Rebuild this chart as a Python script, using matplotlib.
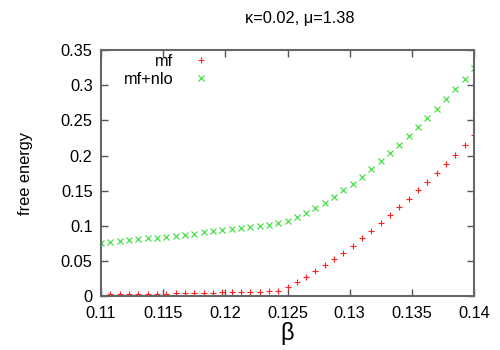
import numpy as np
import matplotlib
matplotlib.use("Agg")
import matplotlib.pyplot as plt

plt.rcParams['font.family'] = ['Liberation Sans', 'DejaVu Sans']

# beta grid: 41 points between 0.11 and 0.14
beta = [0.11 + 0.00075 * i for i in range(41)]

mf = [0.0019, 0.0024, 0.0024, 0.0024, 0.0028, 0.0028, 0.0033, 0.0033,
      0.0038, 0.0038, 0.0043, 0.0043, 0.0047, 0.0052, 0.0052, 0.0057,
      0.0062, 0.0062, 0.0066, 0.0071, 0.0133, 0.0194, 0.0270, 0.0350,
      0.0436, 0.0526, 0.0616, 0.0716, 0.0820, 0.0924, 0.1033, 0.1147,
      0.1261, 0.1380, 0.1503, 0.1626, 0.1750, 0.1883, 0.2012, 0.2148,
      0.2285]

mf_nlo = [0.0758, 0.0773, 0.0787, 0.0797, 0.0806, 0.0820, 0.0830, 0.0844,
          0.0858, 0.0873, 0.0887, 0.0906, 0.0920, 0.0934, 0.0948, 0.0963,
          0.0982, 0.0996, 0.1015, 0.1043, 0.1072, 0.1119, 0.1181, 0.1248,
          0.1324, 0.1410, 0.1505, 0.1600, 0.1700, 0.1804, 0.1918, 0.2032,
          0.2148, 0.2276, 0.2400, 0.2527, 0.2660, 0.2802, 0.2940, 0.3087,
          0.3238]

xticks = [0.11, 0.115, 0.12, 0.125, 0.13, 0.135, 0.14]
xticklabels = ['0.11', '0.115', '0.12', '0.125', '0.13', '0.135', '0.14']
yticks = [0, 0.05, 0.1, 0.15, 0.2, 0.25, 0.3, 0.35]
yticklabels = ['0', '0.05', '0.1', '0.15', '0.2', '0.25', '0.3', '0.35']

fs = 11.8

fig = plt.figure(figsize=(5, 3.5), dpi=100)
ax = fig.add_axes([0.202, 0.154, 0.746, 0.703])

ax.plot(beta, mf, '+', color='#ff2020', markersize=5, markeredgewidth=0.8, label='mf')
ax.plot(beta, mf_nlo, 'x', color='#33dd33', markersize=4.5, markeredgewidth=0.8,
        label='mf+nlo')

ax.set_xlim(0.11, 0.14)
ax.set_ylim(0, 0.35)
ax.set_xticks(xticks)
ax.set_xticklabels(xticklabels)
ax.set_yticks(yticks)
ax.set_yticklabels(yticklabels)
ax.tick_params(direction='in', length=5, width=1, color='#555555',
               top=True, right=True, labelsize=fs)
ax.tick_params(axis='x', pad=7)
ax.tick_params(axis='y', pad=6)

for s in ax.spines.values():
    s.set_color('#666666')
    s.set_linewidth(1.5)

ax.set_xlabel('β', fontsize=17, labelpad=1)
ax.set_ylabel('free energy', fontsize=fs, labelpad=20)
fig.text(0.6, 0.947, 'κ=0.02, μ=1.38', ha='center', va='center', fontsize=fs)

leg = ax.legend(loc='upper left', markerfirst=False, frameon=False, fontsize=fs,
                handletextpad=1.2, handlelength=1.0, borderaxespad=0.2,
                labelspacing=0.2, bbox_to_anchor=(0.035, 1.025))
for t in leg.get_texts():
    t.set_ha('right')
leg._legend_box.align = 'right'

fig.savefig('out.png', dpi=100)
